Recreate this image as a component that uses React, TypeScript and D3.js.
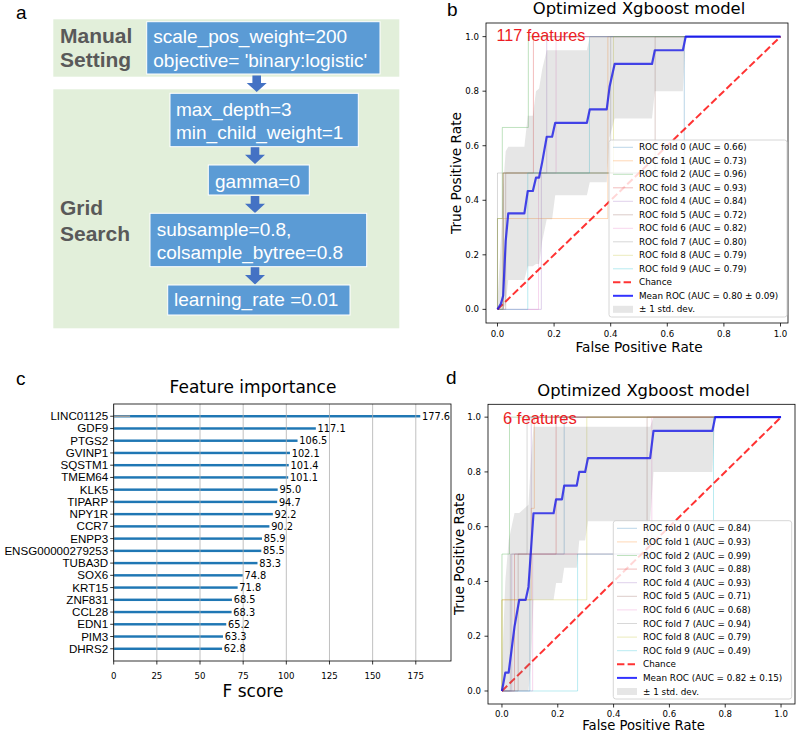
import React from "react";
import * as d3 from "d3";

const SANS = "'Liberation Sans', Arial, sans-serif";
const DJ = "'DejaVu Sans', sans-serif";

// ---------------- Panel a : tuning flow ----------------
const manualTitle = ["Manual", "Setting"];
const gridTitle = ["Grid", "Search"];
const manualParams = ["scale_pos_weight=200", "objective= 'binary:logistic'"];
const gridParams = [
  ["max_depth=3", "min_child_weight=1"],
  ["gamma=0"],
  ["subsample=0.8,", "colsample_bytree=0.8"],
  ["learning_rate =0.01"],
];

// ---------------- Panel c : feature importance ----------------
const genes = [
  "LINC01125", "GDF9", "PTGS2", "GVINP1", "SQSTM1", "TMEM64", "KLK5", "TIPARP", "NPY1R", "CCR7",
  "ENPP3", "ENSG00000279253", "TUBA3D", "SOX6", "KRT15", "ZNF831", "CCL28", "EDN1", "PIM3", "DHRS2",
];
const fScores = [177.6, 117.1, 106.5, 102.1, 101.4, 101.1, 95.0, 94.7, 92.2, 90.2, 85.9, 85.5, 83.3, 74.8, 71.8, 68.5, 68.3, 65.2, 63.3, 62.8];
const fTicks = [0, 25, 50, 75, 100, 125, 150, 175];
const lincGreySegment = 9.5;

// ---------------- Panels b, d : ROC ----------------
const rocTicks = [0, 0.2, 0.4, 0.6, 0.8, 1.0];
const foldColors = ["#1f77b4", "#ff7f0e", "#2ca02c", "#d62728", "#9467bd", "#8c564b", "#e377c2", "#7f7f7f", "#bcbd22", "#17becf"];
const chanceLine = [[0, 0], [1, 1]];

const aucB = [0.66, 0.73, 0.96, 0.93, 0.84, 0.72, 0.82, 0.80, 0.79, 0.79];
const foldsB = [
  [[0, 0], [0.02, 0], [0.02, 0.5], [0.66, 0.5], [0.66, 1], [1, 1]],
  [[0, 0], [0, 0.333], [0.39, 0.333], [0.39, 1], [1, 1]],
  [[0, 0], [0, 0.333], [0.017, 0.333], [0.017, 0.667], [0.109, 0.667], [0.109, 1], [1, 1]],
  [[0, 0], [0.02, 0], [0.02, 0.5], [0.127, 0.5], [0.127, 1], [1, 1]],
  [[0, 0], [0.155, 0], [0.155, 0.5], [0.174, 0.5], [0.174, 1], [1, 1]],
  [[0, 0], [0.029, 0], [0.029, 0.5], [0.557, 0.5], [0.557, 1], [1, 1]],
  [[0, 0], [0.145, 0], [0.145, 0.5], [0.207, 0.5], [0.207, 1], [1, 1]],
  [[0, 0], [0, 0.5], [0.4, 0.5], [0.4, 1], [1, 1]],
  [[0, 0], [0.02, 0], [0.02, 0.5], [0.41, 0.5], [0.41, 1], [1, 1]],
  [[0, 0], [0.107, 0], [0.107, 0.5], [0.325, 0.5], [0.325, 1], [1, 1]],
];
const meanB = [
  [0, 0], [0.012, 0.02], [0.02, 0.05], [0.029, 0.25], [0.038, 0.352], [0.095, 0.352], [0.107, 0.434],
  [0.125, 0.434], [0.136, 0.483], [0.147, 0.483], [0.158, 0.54], [0.174, 0.633], [0.193, 0.633],
  [0.204, 0.684], [0.316, 0.684], [0.326, 0.733], [0.386, 0.733], [0.396, 0.816], [0.414, 0.9],
  [0.546, 0.9], [0.556, 0.95], [0.655, 0.95], [0.665, 1], [1, 1],
];
const bandB = [
  [0, 0, 0.03], [0.012, 0, 0.25], [0.02, 0, 0.45], [0.029, 0.02, 0.58], [0.038, 0.108, 0.596],
  [0.095, 0.108, 0.596], [0.107, 0.158, 0.71], [0.125, 0.158, 0.71], [0.136, 0.166, 0.8],
  [0.147, 0.166, 0.81], [0.158, 0.25, 0.88], [0.174, 0.33, 0.95], [0.193, 0.33, 0.95],
  [0.204, 0.418, 0.95], [0.316, 0.418, 0.95], [0.326, 0.466, 1], [0.386, 0.466, 1],
  [0.396, 0.63, 1], [0.414, 0.7, 1], [0.546, 0.7, 1], [0.556, 0.8, 1], [0.655, 0.8, 1],
  [0.665, 1, 1], [1, 1, 1],
];

const aucD = [0.84, 0.93, 0.99, 0.88, 0.93, 0.71, 0.68, 0.94, 0.79, 0.49];
const foldsD = [
  [[0, 0], [0.1, 0], [0.1, 0.5], [0.223, 0.5], [0.223, 1], [1, 1]],
  [[0, 0], [0, 0.333], [0.105, 0.333], [0.105, 0.667], [0.116, 0.667], [0.116, 1], [1, 1]],
  [[0, 0], [0, 0.5], [0.027, 0.5], [0.027, 1], [1, 1]],
  [[0, 0], [0.045, 0], [0.045, 0.5], [0.194, 0.5], [0.194, 1], [1, 1]],
  [[0, 0], [0.035, 0], [0.035, 0.5], [0.105, 0.5], [0.105, 1], [1, 1]],
  [[0, 0], [0.058, 0], [0.058, 0.5], [0.52, 0.5], [0.52, 1], [1, 1]],
  [[0, 0], [0.11, 0], [0.11, 0.5], [0.537, 0.5], [0.537, 1], [1, 1]],
  [[0, 0], [0.03, 0], [0.03, 0.5], [0.09, 0.5], [0.09, 1], [1, 1]],
  [[0, 0], [0, 0.333], [0.304, 0.333], [0.304, 1], [1, 1]],
  [[0, 0], [0.271, 0], [0.271, 0.5], [0.758, 0.5], [0.758, 1], [1, 1]],
];
const meanD = [
  [0, 0], [0.012, 0.067], [0.024, 0.067], [0.045, 0.235], [0.062, 0.333], [0.085, 0.333],
  [0.095, 0.38], [0.113, 0.649], [0.185, 0.649], [0.194, 0.7], [0.215, 0.7], [0.223, 0.75],
  [0.268, 0.75], [0.277, 0.8], [0.298, 0.8], [0.308, 0.85], [0.531, 0.85], [0.543, 0.95],
  [0.754, 0.95], [0.764, 1], [1, 1],
];
const bandD = [
  [0, 0, 0.08], [0.012, 0, 0.4], [0.024, 0, 0.55], [0.045, 0, 0.65], [0.062, 0, 0.65],
  [0.095, 0, 0.68], [0.104, 0.1, 0.85], [0.113, 0.333, 0.965], [0.185, 0.333, 0.965],
  [0.194, 0.394, 0.965], [0.215, 0.394, 0.965], [0.223, 0.45, 0.965], [0.268, 0.45, 0.965],
  [0.277, 0.55, 0.965], [0.298, 0.55, 0.965], [0.308, 0.62, 0.965], [0.531, 0.62, 0.965],
  [0.543, 0.8, 1], [0.754, 0.8, 1], [0.764, 1, 1], [1, 1, 1],
];

// ---------------- components ----------------
function FlowPanel() {
  const green = "#e2efda";
  const boxFill = "#5b9bd5";
  const arrowFill = "#4472c4";
  const boxes = [
    { x: 146.7, y: 21.7, w: 233.3, h: 52.3, tx: 153.3, base: [43.3, 67.3], lines: manualParams },
    { x: 170, y: 93.3, w: 188.3, h: 53.4, tx: 176, base: [115.5, 138.5], lines: gridParams[0] },
    { x: 208.3, y: 165, w: 101, h: 30, tx: 215, base: [187.5], lines: gridParams[1] },
    { x: 150, y: 213.3, w: 216.7, h: 53.4, tx: 156.7, base: [235.5, 258.5], lines: gridParams[2] },
    { x: 167.7, y: 285, w: 182.3, h: 30, tx: 174, base: [306.3], lines: gridParams[3] },
  ];
  const arrows = [
    { cx: 256.7, y0: 75.5, y1: 92 },
    { cx: 255, y0: 147, y1: 164 },
    { cx: 255, y0: 196, y1: 213 },
    { cx: 255, y0: 267, y1: 284.5 },
  ];
  return (
    <g>
      <text x={16} y={18.5} fontFamily={SANS} fontSize={19}>a</text>
      <rect x={53.3} y={19.3} width={346} height={57.4} fill={green} />
      <rect x={53.3} y={89.3} width={346} height={239} fill={green} />
      <text fontFamily={SANS} fontWeight="bold" fontSize={21} fill="#595959">
        <tspan x={60} y={42.7}>{manualTitle[0]}</tspan>
        <tspan x={60} y={66.7}>{manualTitle[1]}</tspan>
        <tspan x={60} y={215}>{gridTitle[0]}</tspan>
        <tspan x={60} y={240.5}>{gridTitle[1]}</tspan>
      </text>
      {arrows.map((a, i) => {
        const hy = a.y0 + (a.y1 - a.y0) * 0.45;
        const pts = [
          [a.cx - 4.3, a.y0], [a.cx + 4.3, a.y0], [a.cx + 4.3, hy], [a.cx + 10, hy],
          [a.cx, a.y1], [a.cx - 10, hy], [a.cx - 4.3, hy],
        ];
        return <polygon key={i} points={pts.map((p) => p.join(",")).join(" ")} fill={arrowFill} />;
      })}
      {boxes.map((b, i) => (
        <g key={i}>
          <rect x={b.x} y={b.y} width={b.w} height={b.h} fill={boxFill} stroke="#ffffff" strokeWidth={1} />
          {b.lines.map((l, j) => (
            <text key={j} x={b.tx} y={b.base[j]} fontFamily={SANS} fontSize={19} fill="#ffffff">{l}</text>
          ))}
        </g>
      ))}
    </g>
  );
}

function ImportancePanel() {
  const box = { l: 113.7, r: 451, t: 404, b: 661 };
  const x = d3.scaleLinear().domain([0, 195.4]).range([box.l, box.r]);
  const y = d3.scaleLinear().domain([-1, genes.length]).range([box.t, box.b]);
  const bh = y(0.1) - y(-0.1);
  return (
    <g>
      <text x={16} y={385} fontFamily={SANS} fontSize={19}>c</text>
      <text x={253} y={393.3} textAnchor="middle" fontFamily={DJ} fontSize={17}>Feature importance</text>
      {genes.map((g, i) => (
        <rect key={g} x={x(0)} y={y(i) - bh / 2} width={x(fScores[i]) - x(0)} height={bh} fill="#1f77b4" />
      ))}
      <line x1={x(0)} x2={x(lincGreySegment)} y1={y(0)} y2={y(0)} stroke="#9a9a9a" strokeWidth={1.6} />
      {fTicks.map((t) => (
        <line key={t} x1={x(t)} x2={x(t)} y1={box.t} y2={box.b} stroke="#b0b0b0" strokeWidth={0.8} />
      ))}
      {genes.map((g, i) => (
        <text key={g} x={x(fScores[i] + 1)} y={y(i) + 3.6} fontFamily={DJ} fontSize={9.8}>{fScores[i].toFixed(1)}</text>
      ))}
      <rect x={box.l} y={box.t} width={box.r - box.l} height={box.b - box.t} fill="none" stroke="#000" strokeWidth={0.8} />
      {genes.map((g, i) => (
        <g key={g}>
          <line x1={box.l - 3.5} x2={box.l} y1={y(i)} y2={y(i)} stroke="#000" strokeWidth={0.8} />
          <text x={box.l - 5.5} y={y(i) + 4} textAnchor="end" fontFamily={SANS} fontSize={11.6}>{g}</text>
        </g>
      ))}
      {fTicks.map((t) => (
        <g key={t}>
          <line x1={x(t)} x2={x(t)} y1={box.b} y2={box.b + 3.5} stroke="#000" strokeWidth={0.8} />
          <text x={x(t)} y={box.b + 17.5} textAnchor="middle" fontFamily={DJ} fontSize={8.6}>{t}</text>
        </g>
      ))}
      <text x={253} y={696.7} textAnchor="middle" fontFamily={DJ} fontSize={17}>F score</text>
    </g>
  );
}

function RocPanel(p: any) {
  const { box } = p;
  const x = d3.scaleLinear().domain(p.xDomain).range([box.l, box.r]);
  const y = d3.scaleLinear().domain(p.yDomain).range([box.b, box.t]);
  const line = d3.line<number[]>().x((d) => x(d[0])).y((d) => y(d[1]));
  const area = d3.area<number[]>().x((d) => x(d[0])).y0((d) => y(d[1])).y1((d) => y(d[2]));
  const clipId = "clip-" + p.id;
  const items = [
    ...p.folds.map((f: number[][], i: number) => ({
      color: foldColors[i], opacity: 0.3, width: 1, dash: undefined, patch: false,
      label: `ROC fold ${i} (AUC = ${p.aucs[i].toFixed(2)})`,
    })),
    { color: "red", opacity: 0.8, width: 2, dash: "7.4 3.2", patch: false, label: "Chance" },
    { color: "blue", opacity: 0.8, width: 2, dash: undefined, patch: false, label: `Mean ROC (AUC = ${p.meanAuc})` },
    { color: "grey", opacity: 0.2, width: 0, dash: undefined, patch: true, label: "± 1 std. dev." },
  ];
  const L = p.legend;
  const cx = (box.l + box.r) / 2 + 2;
  return (
    <g>
      <text x={p.letterPos[0]} y={p.letterPos[1]} fontFamily={SANS} fontSize={19}>{p.letter}</text>
      <text x={cx} y={p.titleY} textAnchor="middle" fontFamily={DJ} fontSize={16.4}>Optimized Xgboost model</text>
      <defs>
        <clipPath id={clipId}>
          <rect x={box.l} y={box.t} width={box.r - box.l} height={box.b - box.t} />
        </clipPath>
      </defs>
      <g clipPath={`url(#${clipId})`}>
        {p.folds.map((f: number[][], i: number) => (
          <path key={i} d={line(f) || ""} fill="none" stroke={foldColors[i]} strokeOpacity={0.3} strokeWidth={1} />
        ))}
        <path d={line(chanceLine) || ""} fill="none" stroke="red" strokeOpacity={0.8} strokeWidth={2} strokeDasharray="7.4 3.2" />
        <path d={line(p.mean) || ""} fill="none" stroke="blue" strokeOpacity={0.8} strokeWidth={2.2} strokeLinejoin="round" />
        <path d={area(p.band) || ""} fill="grey" fillOpacity={0.2} />
      </g>
      <rect x={box.l} y={box.t} width={box.r - box.l} height={box.b - box.t} fill="none" stroke="#000" strokeWidth={0.8} />
      {rocTicks.map((t) => (
        <g key={"x" + t}>
          <line x1={x(t)} x2={x(t)} y1={box.b} y2={box.b + 3.5} stroke="#000" strokeWidth={0.8} />
          <text x={x(t)} y={box.b + p.tickOffset} textAnchor="middle" fontFamily={DJ} fontSize={8.6}>{t.toFixed(1)}</text>
        </g>
      ))}
      {rocTicks.map((t) => (
        <g key={"y" + t}>
          <line x1={box.l - 3.5} x2={box.l} y1={y(t)} y2={y(t)} stroke="#000" strokeWidth={0.8} />
          <text x={box.l - 7} y={y(t) + 3.1} textAnchor="end" fontFamily={DJ} fontSize={8.6}>{t.toFixed(1)}</text>
        </g>
      ))}
      <text x={cx} y={p.xLabelY} textAnchor="middle" fontFamily={DJ} fontSize={p.xLabelSize}>False Positive Rate</text>
      <text transform={`translate(${p.yLabelX},${(box.t + box.b) / 2}) rotate(-90)`} textAnchor="middle" fontFamily={DJ} fontSize={13.7}>True Positive Rate</text>
      <text x={p.note.x} y={p.note.y} fontFamily={SANS} fontSize={p.note.size} fill="#ec1c24">{p.note.text}</text>
      <rect x={L.x} y={L.y} width={L.w} height={L.h} rx={2.5} fill="#ffffff" fillOpacity={0.8} stroke="#cccccc" strokeWidth={0.8} />
      {items.map((it, i) => {
        const ry = L.row0 + i * L.dy;
        return (
          <g key={i}>
            {it.patch ? (
              <rect x={L.hx} y={ry - 3.5} width={20} height={7} fill={it.color} fillOpacity={it.opacity} />
            ) : (
              <line x1={L.hx} x2={L.hx + 20} y1={ry} y2={ry} stroke={it.color} strokeOpacity={it.opacity} strokeWidth={it.width} strokeDasharray={it.dash} />
            )}
            <text x={L.tx} y={ry + 3.1} fontFamily={DJ} fontSize={8.8}>{it.label}</text>
          </g>
        );
      })}
    </g>
  );
}

export default function App() {
  return (
    <svg width={797} height={733} style={{ position: "absolute", left: 0, top: 0, background: "#ffffff" }}>
      <rect x={0} y={0} width={797} height={733} fill="#ffffff" />
      <FlowPanel />
      <ImportancePanel />
      <RocPanel
        id="b" letter="b" letterPos={[447, 16]} titleY={13.5}
        box={{ l: 486, r: 788, t: 23, b: 323 }}
        xDomain={[-0.0406, 1.0265]} yDomain={[-0.05, 1.05]}
        folds={foldsB} aucs={aucB} mean={meanB} band={bandB} meanAuc="0.80 ± 0.09"
        note={{ text: "117 features", x: 496.5, y: 41, size: 16.2 }}
        tickOffset={14} xLabelY={351.5} xLabelSize={13.7} yLabelX={461}
        legend={{ x: 609, y: 140, w: 178, h: 177, row0: 147.3, dy: 13.5, hx: 613, tx: 639 }}
      />
      <RocPanel
        id="d" letter="d" letterPos={[446, 383.5]} titleY={395.5}
        box={{ l: 488, r: 795, t: 404.3, b: 704 }}
        xDomain={[-0.05, 1.05]} yDomain={[-0.0475, 1.0469]}
        folds={foldsD} aucs={aucD} mean={meanD} band={bandD} meanAuc="0.82 ± 0.15"
        note={{ text: "6 features", x: 503, y: 423.5, size: 16.6 }}
        tickOffset={12.8} xLabelY={729.8} xLabelSize={13.2} yLabelX={464}
        legend={{ x: 613.3, y: 520.7, w: 178.4, h: 178.3, row0: 528.3, dy: 13.6, hx: 617, tx: 643 }}
      />
    </svg>
  );
}
